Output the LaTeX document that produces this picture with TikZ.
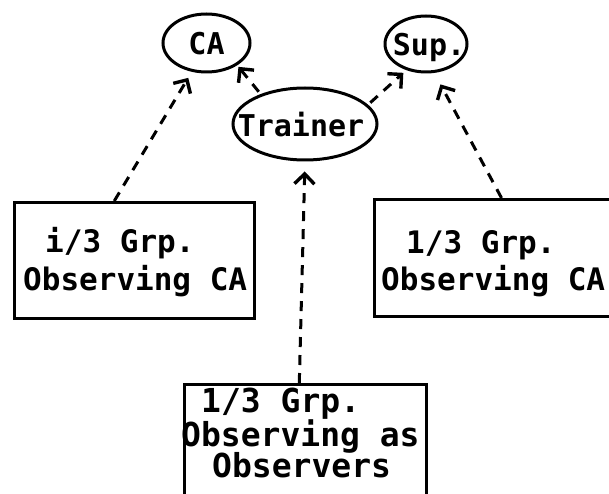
\documentclass[tikz,border=0pt]{standalone}
\usepackage{fontspec}
\setmonofont{DejaVu Sans Mono}
\usetikzlibrary{shapes.geometric,arrows.meta,calc}
\begin{document}
\begin{tikzpicture}[x=1pt,y=-1pt,
  oval/.style={draw,ellipse,line width=3pt,inner sep=0pt},
  lbl/.style={inner sep=0pt,text depth=0pt,font=\ttfamily\bfseries\fontsize{30}{30}\selectfont},
  grpbox/.style={draw,rectangle,line width=2.8pt,anchor=north west,inner sep=0pt},
  grptext/.style={anchor=base west,inner sep=0pt,font=\ttfamily\bfseries\fontsize{31}{31}\selectfont},
  bigtext/.style={grptext,font=\ttfamily\bfseries\fontsize{33}{33}\selectfont},
  link/.style={line width=3pt,dash pattern=on 10pt off 8pt,
    -{Straight Barb[length=10pt,width=20pt,line width=3.4pt]}}]
\useasboundingbox (0,0) rectangle (609,494);
\fill[white] (0,0) rectangle (609,494);

% ellipses
\node[oval,minimum width=87pt,minimum height=58pt,label={[lbl]center:CA}] (ca) at (206.5,43) {};
\node[oval,minimum width=82pt,minimum height=56pt,label={[lbl,xshift=3pt]center:Sup.}] (sup) at (426,44) {};
\node[oval,minimum width=144pt,minimum height=72pt,
  label={[lbl,font=\ttfamily\bfseries\fontsize{30}{30}\selectfont,xshift=-4pt]center:Trainer}] (trainer) at (305,124) {};

% boxes
\node[grpbox,minimum width=240pt,minimum height=116pt] (lbox) at (13,201) {};
\node[grpbox,minimum width=242pt,minimum height=117pt] (rbox) at (373,198) {};
\node[grpbox,minimum width=242pt,minimum height=130pt] (bbox) at (183,383) {};

% box texts
\node[grptext] (lt1) at (45,252) {i/3 Grp.};
\node[grptext] (lt2) at (23,290) {Observing CA};
\node[grptext] (rt1) at (406,253) {1/3 Grp.};
\node[grptext] (rt2) at (381,290) {Observing CA};
\node[bigtext] (bt1) at (201,412) {1/3 Grp.};
\node[bigtext] (bt2) at (181,446) {Observing as};
\node[bigtext] (bt3) at (212,477) {Observers};

% connectors
\coordinate (lfoot) at ($(lbox.north west)!0.417!(lbox.north east)$);
\coordinate (rfoot) at ($(rbox.north west)!0.525!(rbox.north east)$);
\coordinate (bfoot) at ($(bbox.north west)!0.475!(bbox.north east)$);
\draw[link,shorten >=7pt] (lfoot) -- (ca.-117);
\draw[link,shorten >=2pt,shorten <=3pt] (trainer.146) -- (ca.-36);
\draw[link,shorten >=4pt,shorten <=3pt] (trainer.17) -- (sup.-127);
\draw[link,shorten >=13pt] (rfoot) -- (sup.-74);
\draw[link,shorten >=10pt] (bfoot) -- (trainer.south);
\end{tikzpicture}
\end{document}
